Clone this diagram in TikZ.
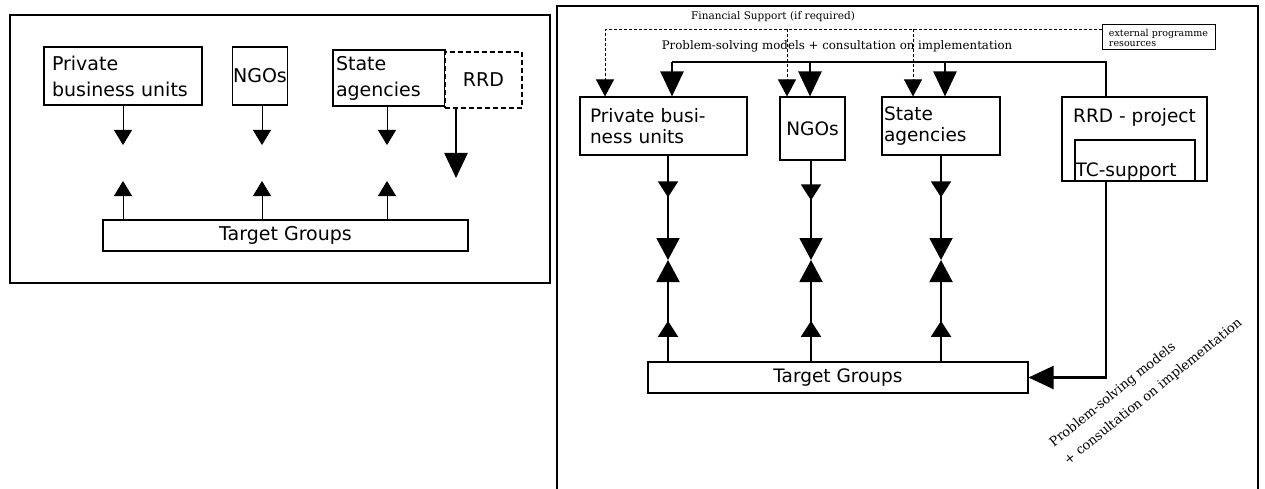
\documentclass[tikz,border=0pt]{standalone}
\usepackage{fontspec}
\setmainfont{DejaVu Sans}
\newfontfamily\notefont{DejaVu Serif}
\usetikzlibrary{arrows.meta,decorations.markings}

\tikzset{
  frame/.style={line width=1.6pt},
  box/.style={draw,line width=1.1pt,fill=white,inner xsep=3pt,inner ysep=2pt,font=\fontsize{19}{26}\selectfont},
  rbox/.style={box,font=\fontsize{18.5}{21}\selectfont},
  dashbox/.style={box,dash pattern=on 5pt off 3pt},
  note/.style={font=\notefont\fontsize{11}{12}\selectfont,inner sep=1pt},
  smallarrow/.style={-{Triangle[width=18pt,length=15pt]},line width=0.9pt},
  finarrow/.style={-{Triangle[width=18pt,length=17pt]},line width=0.9pt,dash pattern=on 3pt off 2pt},
  busline/.style={line width=2.5pt},
  bigarrow/.style={-{Triangle[width=23pt,length=25pt]},line width=2.5pt},
  colarrow/.style={-{Triangle[width=23pt,length=22pt]},line width=2pt,postaction={decorate},
    decoration={markings,mark=at position 0.4 with {\arrow{Triangle[width=20pt,length=16pt]}}}},
}

\begin{document}
\begin{tikzpicture}[x=1pt,y=-1pt]
  \path[use as bounding box,fill=white] (0,0) rectangle (1265,489);

  % left: direct contact
  \draw[frame] (10,15) rectangle (550,283);
  \node[box,text width=142pt,inner xsep=8pt,minimum height=58pt,align=left] (lpbu) at (123,76) {Private\\business units};
  \node[box,minimum width=46pt,minimum height=58pt,inner xsep=1pt] (lngo) at (260,76) {NGOs};
  \node[box,text width=106pt,inner xsep=3pt,minimum height=56pt,align=left] (lsta) at (389,78) {State\\agencies};
  \node[dashbox,minimum width=77pt,minimum height=56pt] (lrrd) at (483.5,80) {RRD};
  \node[box,minimum width=365pt,minimum height=31pt] (ltg) at (285.5,235.5) {Target Groups};
  \coordinate (lc1) at (123,0);
  \coordinate (lc2) at (262,0);
  \coordinate (lc3) at (387,0);
  \foreach \n/\c in {lpbu/lc1,lngo/lc2,lsta/lc3} {
    \draw[smallarrow] (\n.south -| \c) -- ([yshift=-145pt]\c);
    \draw[smallarrow] (ltg.north -| \c) -- ([yshift=-181pt]\c);
  }
  \coordinate (lrrdtip) at (456,178);
  \draw[bigarrow] (lrrd.south -| lrrdtip) -- (lrrdtip);

  % right: intermediary model
  \draw[frame,line width=2pt] (557,489) -- (557,6) -- (1258,6) -- (1258,489);
  \node[note,font=\notefont\fontsize{10.5}{12}\selectfont] (finlabel) at (773,17) {Financial Support (if required)};
  \node[note,draw,line width=1pt,align=left,font=\notefont\fontsize{9.5}{10}\selectfont,minimum width=113pt,minimum height=25pt] (ext) at (1158.5,37.5) {external programme\\resources};
  \node[note,font=\notefont\fontsize{11.8}{12}\selectfont] (psmlabel) at (837,46) {Problem-solving models + consultation on implementation};

  \node[rbox,text width=147pt,inner xsep=10pt,minimum height=58pt,align=left] (rpbu) at (663.5,126) {Private busi-\\ness units};
  \node[rbox,minimum width=65pt,minimum height=63pt,inner xsep=1pt] (rngo) at (812.5,128.5) {NGOs};
  \node[rbox,text width=114pt,inner xsep=2pt,minimum height=58pt,align=left] (rsta) at (941,126) {State\\agencies};
  \node[rbox,minimum width=145pt,minimum height=84pt,
    label={[font=\fontsize{18.5}{21}\selectfont,anchor=north,yshift=-8pt]north:RRD - project}] (rrrd) at (1134.5,139) {};
  \node[rbox,minimum width=120pt,minimum height=41pt,
    label={[font=\fontsize{18.5}{21}\selectfont,anchor=south west,inner sep=1pt]south west:TC-support}] (rtc) at (1135,160.5) {};
  \node[rbox,minimum width=380pt,minimum height=31pt] (rtg) at (838,377.5) {Target Groups};

  % financial support from outside
  \coordinate (extjoin) at ([yshift=-5pt]ext.north west);
  \coordinate (fin1) at (605,0);
  \coordinate (fin2) at (787,0);
  \coordinate (fin3) at (913,0);
  \draw[finarrow] (extjoin) -| (rpbu.north -| fin1);
  \draw[finarrow] (extjoin -| fin2) -- (rngo.north -| fin2);
  \draw[finarrow] (extjoin -| fin3) -- (rsta.north -| fin3);

  % models handed down from the project
  \coordinate (bus) at (1106,62);
  \coordinate (bus1) at (672,0);
  \coordinate (bus2) at (810,0);
  \coordinate (bus3) at (945,0);
  \draw[busline] (rrrd.north -| bus) -- (bus) -- (bus -| bus1);
  \foreach \n/\c in {rpbu/bus1,rngo/bus2,rsta/bus3}
    \draw[bigarrow] (bus -| \c) -- (\n.north -| \c);

  % two-way contact with the target groups
  \coordinate (col1) at (668,260);
  \coordinate (col2) at (811,260);
  \coordinate (col3) at (941,260);
  \foreach \n/\c in {rpbu/col1,rngo/col2,rsta/col3} {
    \draw[colarrow] (\n.south -| \c) -- (\c);
    \draw[colarrow] (rtg.north -| \c) -- (\c);
  }

  \draw[bigarrow,line width=2.2pt] (rrrd.south -| bus) |- (rtg.east);
  \node[note,font=\notefont\fontsize{13}{23}\selectfont,rotate=39,align=left] (retlabel) at (1146,383) {Problem-solving models\\+ consultation on implementation};
\end{tikzpicture}
\end{document}
